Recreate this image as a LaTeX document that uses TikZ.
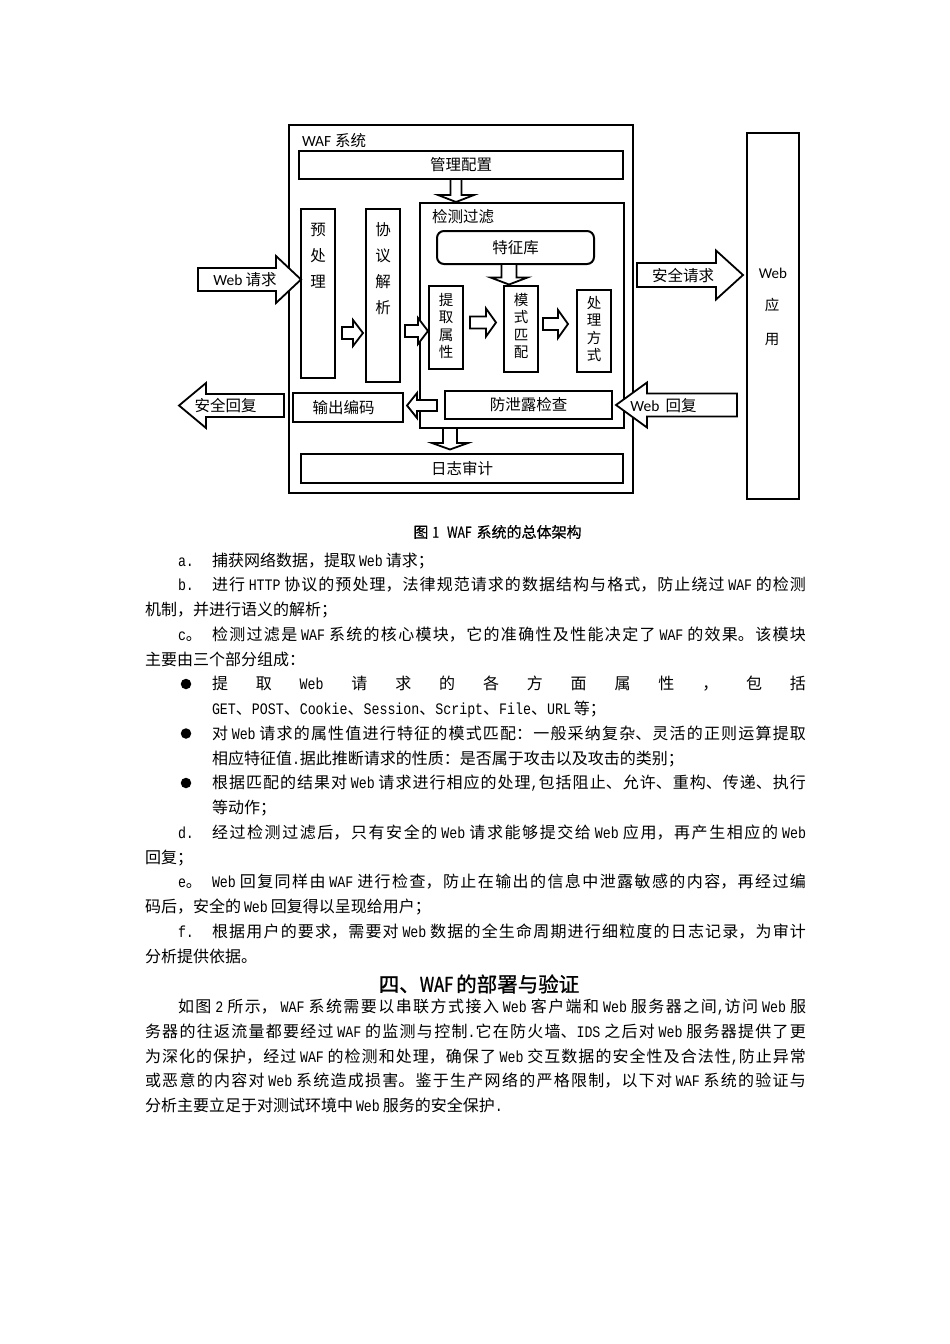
\documentclass[tikz,border=0pt]{standalone}
\usepackage{fontspec}
\setmainfont{Noto Sans CJK SC}
\newfontfamily\lat[FakeStretch=0.83]{Liberation Mono}
\newfontfamily\dlat{Carlito}
\newfontfamily\hei[FakeBold=1.0]{Noto Sans CJK SC}
\newfontfamily\heilat[FakeStretch=0.8,FakeBold=1.0]{Noto Sans CJK SC}
\newfontfamily\capf[FakeBold=0.6]{Noto Sans CJK SC}
\newfontfamily\caplat[FakeStretch=0.8,FakeBold=0.6]{Noto Sans CJK SC}
\usetikzlibrary{calc}
\XeTeXlinebreaklocale "zh"
\XeTeXlinebreakskip=0pt plus 3pt
\newcommand\bfnt{\fontsize{16}{24.75}\selectfont}
\newcommand\lw[1]{\hskip 3pt plus 2pt{\lat #1}\hskip 3pt plus 2pt}
\newcommand\lws[1]{{\lat #1}\hskip 3pt plus 2pt}
\newcommand\lwe[1]{\hskip 3pt plus 2pt{\lat #1}}
\newcommand\jline[5]{\node[anchor=base west] (#1) at ({#2},{#3}) {\parbox[t]{#4pt}{\bfnt\tolerance=10000\hbadness=10000\parfillskip=0pt\noindent #5}};}
\newcommand\pline[4]{\node[anchor=base west] (#1) at ({#2},{#3}) {\bfnt #4};}
% block arrow: name, tail, tip, shaft half, head half, head length
\newcommand\barr[6]{%
  \coordinate (#1-t) at #2;
  \coordinate (#1-p) at #3;
  \coordinate (#1-b) at ($(#1-p)!#6!(#1-t)$);
  \draw[blk] ($(#1-t)!#4!90:(#1-p)$) -- ($(#1-b)!#4!90:(#1-p)$) -- ($(#1-b)!#5!90:(#1-p)$)
    -- (#1-p) -- ($(#1-b)!#5!-90:(#1-p)$) -- ($(#1-b)!#4!-90:(#1-p)$) -- ($(#1-t)!#4!-90:(#1-p)$) -- cycle;}
\begin{document}
\begin{tikzpicture}[x=1pt,y=-1pt,
  every node/.style={inner sep=0pt, outer sep=0pt},
  dfnt/.style={font=\fontsize{15.5}{18}\selectfont},
  thk/.style={draw, line width=2.6pt},
  bx/.style={draw, line width=2pt},
  thn/.style={draw, line width=1.6pt},
  blk/.style={draw, fill=white, line width=1.8pt, line join=miter, miter limit=20},
  vt/.style={align=center, font=\fontsize{15.5}{#1}\selectfont},
  vs/.style={align=center, font=\fontsize{14.5}{17.3}\selectfont},
]
\useasboundingbox (0,0) rectangle (950,1344);
\fill[white] (0,0) rectangle (950,1344);

% ---------- diagram boxes ----------
\node[thk, minimum width=344pt, minimum height=368pt] (waf) at (461,309) {};
\node[dfnt, anchor=west] (waf-l) at (302,141) {{\dlat WAF}\hspace{4pt}系统};
\node[thk, dfnt, minimum width=324pt, minimum height=28pt] (mgmt) at (461,165) {管理配置};
\node[thn, minimum width=204pt, minimum height=225pt] (det) at (522,315.5) {};
\node[dfnt, anchor=west] (det-l) at (432,217) {检测过滤};
\node[bx, dfnt, rounded corners=7pt, minimum width=157pt, minimum height=33pt] (feat) at (515.5,247.5) {特征库};
\node[bx, minimum width=34pt, minimum height=169pt] (pre) at (318,293.5) {};
\node[vt=26] (pre-l) at (318,256) {预\\处\\理};
\node[bx, minimum width=34pt, minimum height=173pt] (proto) at (383,295.5) {};
\node[vt=26] (proto-l) at (383,269) {协\\议\\解\\析};
\node[bx, minimum width=34pt, minimum height=83pt] (ext) at (446,327.5) {};
\node[vs] (ext-l) at (446,326) {提\\取\\属\\性};
\node[bx, minimum width=34pt, minimum height=86pt] (match) at (521,329) {};
\node[vs] (match-l) at (521,326) {模\\式\\匹\\配};
\node[bx, minimum width=34pt, minimum height=82pt] (proc) at (594,331) {};
\node[vs] (proc-l) at (594,329) {处\\理\\方\\式};
\node[bx, dfnt, minimum width=167pt, minimum height=28pt] (leak) at (528.5,405) {防泄露检查};
\node[bx, dfnt, minimum width=110pt, minimum height=29pt] (enc) at (348,407.5) {\hspace{-9pt}输出编码};
\node[bx, dfnt, minimum width=322pt, minimum height=29pt] (log) at (462,468.5) {日志审计};
\node[thn, minimum width=52pt, minimum height=366pt] (app) at (773,316) {};
\node[font=\fontsize{15}{18}\selectfont\dlat] (app-w) at (773,273) {Web};
\node[font=\fontsize{14.5}{18}\selectfont] (app-y) at (772,305) {应};
\node[font=\fontsize{14.5}{18}\selectfont] (app-u) at (772,340) {用};

% ---------- block arrows ----------
\coordinate (wreqT) at (198,279.5);
\barr{wreq}{(wreqT)}{(pre.west |- wreqT)}{11.5pt}{23.5pt}{25pt}
\coordinate (srepT) at (284,405.5);
\coordinate (srepP) at (179,405.5);
\barr{srep}{(srepT)}{(srepP)}{11.5pt}{22.5pt}{27pt}
\coordinate (sreqT) at (637,275);
\coordinate (sreqP) at (743,275);
\barr{sreq}{(sreqT)}{(sreqP)}{12pt}{24.5pt}{27pt}
\coordinate (wrepT) at (737,405);
\coordinate (wrepP) at (616,405);
\barr{wrep}{(wrepT)}{(wrepP)}{11.5pt}{22.5pt}{31pt}
\coordinate (d1P) at (456,202);
\barr{d1}{(mgmt.south -| d1P)}{(d1P)}{5.5pt}{18pt}{7pt}
\coordinate (d2P) at (509,284.5);
\barr{d2}{(feat.south -| d2P)}{(d2P)}{7.5pt}{18.5pt}{7pt}
\coordinate (d3P) at (450,449.5);
\barr{d3}{(det.south -| d3P)}{(d3P)}{7pt}{18pt}{6.5pt}
\coordinate (h1T) at (342,333);
\coordinate (h1P) at (363,333);
\barr{h1}{(h1T)}{(h1P)}{6pt}{13pt}{10pt}
\coordinate (h2T) at (405,331);
\coordinate (h2P) at (428,331);
\barr{h2}{(h2T)}{(h2P)}{6pt}{13pt}{10pt}
\coordinate (h3T) at (470,322.5);
\coordinate (h3P) at (496,322.5);
\barr{h3}{(h3T)}{(h3P)}{6pt}{14pt}{10pt}
\coordinate (h4T) at (543,324);
\coordinate (h4P) at (568,324);
\barr{h4}{(h4T)}{(h4P)}{6pt}{14pt}{10pt}
\coordinate (h5T) at (437,405.5);
\coordinate (h5P) at (407,405.5);
\barr{h5}{(h5T)}{(h5P)}{5.5pt}{12.5pt}{10pt}

% arrow labels
\node[dfnt] (wreq-l) at (245,280) {{\dlat Web}\hspace{3pt}请求};
\node[dfnt] (srep-l) at (225.5,406) {安全回复};
\node[dfnt] (sreq-l) at (683,276) {安全请求};
\node[dfnt] (wrep-l) at (663.5,406) {{\dlat Web}\hspace{6pt}回复};

% ---------- caption ----------
\node (cap) at (497.5,532) {\fontsize{15}{17}\selectfont\capf 图\hspace{4pt}{\caplat 1}\hspace{8pt}{\caplat WAF}\hspace{5pt}系统的总体架构};

% ---------- body text ----------
\pline{la}{178}{566}{\lat a.}
\pline{l0}{212}{566}{捕获网络数据，提取\lw{Web}请求；}
\pline{lb}{178}{566+24.75*1}{\lat b.}
\jline{l1}{212}{566+24.75*1}{594}{进行\lw{HTTP}协议的预处理，法律规范请求的数据结构与格式，防止绕过\lw{WAF}的检测}
\pline{l2}{145}{566+24.75*2}{机制，并进行语义的解析；}
\pline{lc}{178}{566+24.75*3}{{\lat c}。}
\jline{l3}{212}{566+24.75*3}{594}{检测过滤是\lw{WAF}系统的核心模块，它的准确性及性能决定了\lw{WAF}的效果。该模块}
\pline{l4}{145}{566+24.75*4}{主要由三个部分组成：}
\node[circle, fill, minimum size=10.5pt] (bu1) at (186,684) {};
\jline{l5}{212}{566+24.75*5}{594}{提\hfill 取\hfill {\lat Web}\hfill 请\hfill 求\hfill 的\hfill 各\hfill 方\hfill 面\hfill 属\hfill 性\hfill ，\hfill 包\hfill 括}
\pline{l6}{212}{566+24.75*6}{{\lat GET}、{\lat POST}、{\lat Cookie}、{\lat Session}、{\lat Script}、{\lat File}、{\lat URL}\hspace{3pt}等；}
\node[circle, fill, minimum size=10.5pt] (bu2) at (186,733.5) {};
\jline{l7}{212}{566+24.75*7}{594}{对\lw{Web}请求的属性值进行特征的模式匹配：一般采纳复杂、灵活的正则运算提取}
\pline{l8}{212}{566+24.75*8}{相应特征值{\lat .}据此推断请求的性质：是否属于攻击以及攻击的类别；}
\node[circle, fill, minimum size=10.5pt] (bu3) at (186,783) {};
\jline{l9}{212}{566+24.75*9}{594}{根据匹配的结果对\lw{Web}请求进行相应的处理{\lat ,}包括阻止、允许、重构、传递、执行}
\pline{l10}{212}{566+24.75*10}{等动作；}
\pline{ld}{178}{566+24.75*11}{\lat d.}
\jline{l11}{212}{566+24.75*11}{594}{经过检测过滤后，只有安全的\lw{Web}请求能够提交给\lw{Web}应用，再产生相应的\lwe{Web}}
\pline{l12}{145}{566+24.75*12}{回复；}
\pline{le}{178}{566+24.75*13}{{\lat e}。}
\jline{l13}{212}{566+24.75*13}{594}{\lws{Web}回复同样由\lw{WAF}进行检查，防止在输出的信息中泄露敏感的内容，再经过编}
\pline{l14}{145}{566+24.75*14}{码后，安全的\lw{Web}回复得以呈现给用户；}
\pline{lf}{178}{566+24.75*15}{\lat f.}
\jline{l15}{212}{566+24.75*15}{594}{根据用户的要求，需要对\lw{Web}数据的全生命周期进行细粒度的日志记录，为审计}
\pline{l16}{145}{566+24.75*16}{分析提供依据。}

\node (h4) at (479,984) {\fontsize{20.5}{24}\selectfont\hei 四、{\heilat WAF}\hspace{3pt}的部署与验证};

\jline{p0}{178}{1012.5}{628}{如图\lw{2}所示，\lw{WAF}系统需要以串联方式接入\lw{Web}客户端和\lw{Web}服务器之间{\lat ,}访问\lw{Web}服}
\jline{p1}{145}{1012.5+24.75*1}{661}{务器的往返流量都要经过\lw{WAF}的监测与控制{\lat .}它在防火墙、\lws{IDS}之后对\lw{Web}服务器提供了更}
\jline{p2}{145}{1012.5+24.75*2}{661}{为深化的保护，经过\lw{WAF}的检测和处理，确保了\lw{Web}交互数据的安全性及合法性{\lat ,}防止异常}
\jline{p3}{145}{1012.5+24.75*3}{661}{或恶意的内容对\lw{Web}系统造成损害。鉴于生产网络的严格限制，以下对\lw{WAF}系统的验证与}
\pline{p4}{145}{1012.5+24.75*4}{分析主要立足于对测试环境中\lw{Web}服务的安全保护{\lat .}}
\end{tikzpicture}
\end{document}
